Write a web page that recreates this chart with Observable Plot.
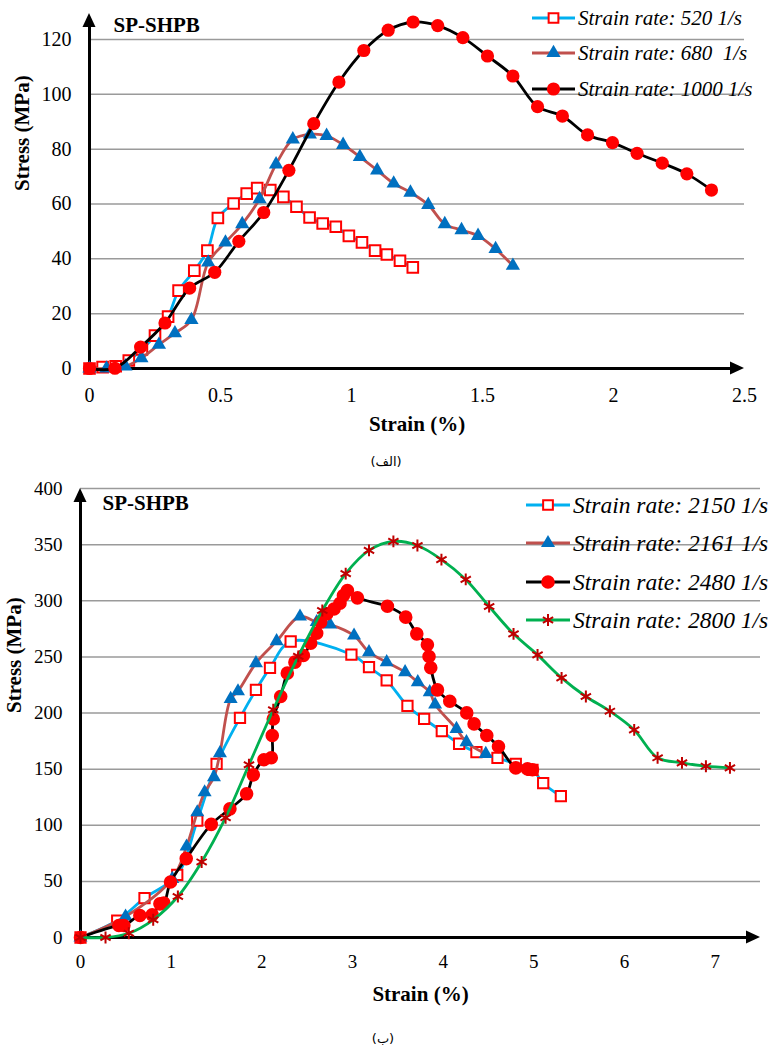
<!DOCTYPE html>
<html><head><meta charset="utf-8">
<script src="https://cdn.jsdelivr.net/npm/d3@7"></script>
<script src="https://cdn.jsdelivr.net/npm/@observablehq/plot@0.6"></script>
<style>
body{margin:0;background:#fff;width:769px;height:1048px;position:relative;overflow:hidden}
#a,#b{position:absolute;left:0}
#a{top:0}#b{top:480px}
.cap{position:absolute;font-family:"DejaVu Sans",sans-serif;font-size:13px;line-height:16px;direction:rtl;transform:translateX(-50%);color:#000}
</style></head><body>
<div id="a"></div><div id="b"></div>
<div class="cap" style="left:386px;top:454px">(الف)</div>
<div class="cap" style="left:383px;top:1031px">(ب)</div>
<script>
// ---------- Chart (الف) data ----------
const topXTicks = [0, 0.5, 1, 1.5, 2, 2.5];
const topYTicks = [0, 20, 40, 60, 80, 100, 120];
const s520Strain = [0, 0.05, 0.10, 0.15, 0.20, 0.25, 0.30, 0.34, 0.40, 0.45, 0.49, 0.55, 0.60, 0.64, 0.69, 0.74, 0.79, 0.84, 0.89, 0.94, 0.99, 1.04, 1.09, 1.135, 1.185, 1.234];
const s520Stress = [0, 0.5, 0.8, 2.9, 7, 12, 18.9, 28.4, 35.7, 43, 54.9, 60.2, 63.8, 65.8, 65.1, 62.6, 59, 55.1, 52.9, 51.7, 48.4, 46, 43, 41.6, 39.3, 36.9];
const s680Strain = [0, 0.065, 0.137, 0.198, 0.265, 0.326, 0.389, 0.453, 0.519, 0.583, 0.649, 0.712, 0.776, 0.841, 0.905, 0.968, 1.032, 1.098, 1.161, 1.225, 1.293, 1.356, 1.42, 1.483, 1.55, 1.616];
const s680Stress = [0, 0, 0.8, 3.8, 8.7, 12.9, 17.7, 38.7, 46, 52.7, 61.8, 74.5, 83.6, 85.4, 84.9, 81.6, 77.2, 72.3, 67.5, 64.2, 59.7, 52.7, 50.5, 48.4, 43.6, 37.5];
const s1000Strain = [0, 0.097, 0.195, 0.288, 0.382, 0.478, 0.57, 0.665, 0.761, 0.856, 0.952, 1.047, 1.14, 1.235, 1.329, 1.425, 1.519, 1.616, 1.71, 1.805, 1.901, 1.996, 2.09, 2.186, 2.28, 2.374];
const s1000Stress = [0, 0.1, 7.8, 16.6, 29.3, 35.1, 46.4, 56.9, 72.3, 89.3, 104.5, 116, 123.4, 126.4, 125.1, 120.7, 114, 106.7, 95.5, 92.1, 85.2, 82.4, 78.5, 74.9, 71, 65.1];
const topLabels = ["Strain rate: 520 1/s", "Strain rate: 680  1/s", "Strain rate: 1000 1/s"];

// ---------- Chart (ب) data ----------
const botXTicks = [0, 1, 2, 3, 4, 5, 6, 7];
const botYTicks = [0, 50, 100, 150, 200, 250, 300, 350, 400];
const b2150Strain = [0, 0.405, 0.706, 1.067, 1.288, 1.501, 1.759, 1.935, 2.09, 2.318, 2.988, 3.182, 3.377, 3.606, 3.79, 3.985, 4.176, 4.367, 4.599, 4.801, 4.985, 5.103, 5.298];
const b2150Stress = [0, 15.1, 35, 55.8, 104.2, 154.7, 195.7, 220.6, 240.2, 263.7, 252.1, 240.8, 229, 206.3, 194.7, 183.8, 172.6, 165.1, 160.1, 154.7, 149.4, 137.5, 125.9];
const b2161Strain = [0, 0.497, 1.012, 1.17, 1.288, 1.369, 1.472, 1.538, 1.656, 1.737, 1.935, 2.163, 2.421, 2.605, 2.752, 3.017, 3.182, 3.377, 3.58, 3.72, 3.852, 3.911, 4.147, 4.257, 4.47];
const b2161Stress = [0, 18.7, 52.2, 81, 111.6, 129.4, 142.8, 164.2, 212.6, 219.4, 244.4, 264, 286, 281, 278.8, 269, 254.2, 245.3, 236.4, 227.5, 218.6, 207.6, 185.8, 174, 163.6];
const b2480Strain = [0, 0.423, 0.478, 0.655, 0.791, 0.876, 0.92, 0.993, 1.166, 1.442, 1.648, 1.832, 1.906, 2.023, 2.104, 2.115, 2.126, 2.208, 2.281, 2.365, 2.458, 2.539, 2.605, 2.649, 2.715, 2.796, 2.862, 2.9, 2.944, 3.054, 3.385, 3.587, 3.709, 3.826, 3.844, 3.863, 3.937, 4.073, 4.26, 4.341, 4.481, 4.61, 4.801, 4.93, 4.985];
const b2480Stress = [0, 10.7, 10.7, 19.6, 20.2, 30, 30.6, 49.5, 70.3, 100.8, 114.6, 128, 144.9, 158.3, 160.1, 180, 194.7, 214.7, 235.5, 245.3, 251.2, 262.2, 271.1, 281, 288.3, 292.7, 297.8, 304.7, 309.1, 302.6, 295.1, 285.4, 270.5, 260.8, 250.3, 240.3, 220.6, 210.5, 200.1, 190.3, 180, 170.2, 151.1, 150.2, 149.4];
const b2800Strain = [0, 0.276, 0.533, 0.802, 1.074, 1.336, 1.6, 1.858, 2.126, 2.402, 2.667, 2.925, 3.182, 3.451, 3.716, 3.981, 4.249, 4.507, 4.776, 5.041, 5.306, 5.574, 5.839, 6.107, 6.365, 6.634, 6.898, 7.163];
const b2800Stress = [0, 0, 3.8, 15.8, 36.5, 67.3, 106.7, 153.9, 202.9, 250.4, 291.3, 324.2, 344.9, 352.9, 349.2, 336.7, 319, 294.9, 270.5, 251.8, 231.3, 214.7, 201.6, 184.9, 160.1, 155.6, 152.6, 151.1];
const botLabels = ["Strain rate: 2150 1/s", "Strain rate: 2161 1/s", "Strain rate: 2480 1/s", "Strain rate: 2800 1/s"];

const SERIF = "'Liberation Serif', 'Times New Roman', serif";
const rows = (xs, ys) => xs.map((strain, i) => ({strain, stress: ys[i]}));

// series styles
const stSquare = {line: "#00B0F0", symbol: "square", fill: "white", stroke: "#FF0000", sw: 2};
const stTri = {line: "#C0504D", symbol: "triangle", fill: "#0070C0", stroke: "none", sw: 0};
const stCircle = {line: "#000000", symbol: "circle", fill: "#FF0000", stroke: "none", sw: 0};
const stStar = {line: "#00B050", symbol: "asterisk", fill: "none", stroke: "#C00000", sw: 2};

function seriesMarks(data, st, r) {
  return [
    Plot.line(data, {x: "strain", y: "stress", stroke: st.line, strokeWidth: 2.8, curve: "catmull-rom"}),
    Plot.dot(data, {x: "strain", y: "stress", symbol: () => st.symbol, r, fill: st.fill, stroke: st.stroke, strokeWidth: st.sw})
  ];
}

function decorate(plot, xTip, yTip, legend) {
  const svg = d3.select(plot);
  svg.selectAll("text").style("font-family", SERIF);
  const sx = plot.scale("x"), sy = plot.scale("y");
  const x0 = sx.apply(0), y0 = sy.apply(0);
  const xe = sx.apply(xTip), ye = sy.apply(yTip);
  const g = svg.append("g");
  g.append("path").attr("d", `M${xe},${y0}L${xe - 14},${y0 - 6.5}L${xe - 14},${y0 + 6.5}Z`).attr("fill", "black");
  g.append("path").attr("d", `M${x0},${ye}L${x0 - 6.5},${ye + 14}L${x0 + 6.5},${ye + 14}Z`).attr("fill", "black");
  const lg = svg.append("g");
  legend.items.forEach((it, i) => {
    const y = legend.ys[i];
    lg.append("line").attr("x1", legend.x1).attr("x2", legend.x2).attr("y1", y).attr("y2", y)
      .attr("stroke", it.st.line).attr("stroke-width", 3);
    const sym = {square: d3.symbolSquare, triangle: d3.symbolTriangle, circle: d3.symbolCircle, asterisk: d3.symbolAsterisk}[it.st.symbol];
    lg.append("path").attr("d", d3.symbol(sym, Math.PI * it.r * it.r)())
      .attr("transform", `translate(${(legend.x1 + legend.x2) / 2},${y})`)
      .attr("fill", it.st.fill).attr("stroke", it.st.stroke).attr("stroke-width", it.st.sw);
    lg.append("text").attr("x", legend.tx).attr("y", y).attr("dy", "0.35em")
      .attr("text-anchor", "start")
      .style("font-family", SERIF).style("font-style", "italic").style("font-size", legend.fs + "px")
      .style("white-space", "pre").attr("fill", "black").text(it.label);
  });
}

// ---------- Chart (الف) ----------
const t520 = rows(s520Strain, s520Stress), t680 = rows(s680Strain, s680Stress), t1000 = rows(s1000Strain, s1000Stress);
const plotA = Plot.plot({
  width: 769, height: 440,
  marginLeft: 89, marginRight: 25, marginTop: 13, marginBottom: 72,
  x: {domain: [0, 2.5], label: null},
  y: {domain: [0, 129.5], label: null},
  style: {fontFamily: SERIF, fontSize: "20px", color: "black", background: "white", overflow: "visible"},
  marks: [
    Plot.gridY(topYTicks.filter(d => d > 0), {stroke: "#9a9a9a", strokeOpacity: 1, strokeWidth: 1.5}),
    Plot.ruleX([0], {y1: 0, y2: 125, stroke: "black", strokeWidth: 3}),
    Plot.ruleY([0], {x1: -0.015, x2: 2.46, stroke: "black", strokeWidth: 3}),
    Plot.axisX({ticks: topXTicks, tickSize: 0, tickPadding: 19, tickFormat: d => String(d), fontSize: 20}),
    Plot.axisY({ticks: topYTicks, tickSize: 0, tickPadding: 18, tickFormat: d => String(d), fontSize: 20}),
    ...seriesMarks(t520, stSquare, 6),
    ...seriesMarks(t680, stTri, 5.3),
    ...seriesMarks(t1000, stCircle, 6.6),
    Plot.text(["Strain (%)"], {frameAnchor: "bottom", dy: 56, lineAnchor: "middle", fontWeight: "bold", fontSize: 21}),
    Plot.text(["Stress (MPa)"], {frameAnchor: "left", dx: -67, rotate: -90, lineAnchor: "middle", fontWeight: "bold", fontSize: 21}),
    Plot.text(["SP-SHPB"], {frameAnchor: "top-left", dx: 24, dy: 12, textAnchor: "start", lineAnchor: "middle", fontWeight: "bold", fontSize: 21})
  ]
});
decorate(plotA, 2.5, 129.5, {
  x1: 532, x2: 575, tx: 578, ys: [18, 53, 89], fs: 21,
  items: [
    {label: topLabels[0], st: stSquare, r: 5.5},
    {label: topLabels[1], st: stTri, r: 5.3},
    {label: topLabels[2], st: stCircle, r: 6.6}
  ]
});
document.getElementById("a").append(plotA);

// ---------- Chart (ب) ----------
const d2150 = rows(b2150Strain, b2150Stress), d2161 = rows(b2161Strain, b2161Stress),
      d2480 = rows(b2480Strain, b2480Stress), d2800 = rows(b2800Strain, b2800Stress);
const plotB = Plot.plot({
  width: 769, height: 530,
  marginLeft: 80, marginRight: 9, marginTop: 8, marginBottom: 73,
  x: {domain: [0, 7.5], label: null},
  y: {domain: [0, 400], label: null},
  style: {fontFamily: SERIF, fontSize: "19px", color: "black", background: "white", overflow: "visible"},
  marks: [
    Plot.gridY(botYTicks.filter(d => d > 0), {stroke: "#9a9a9a", strokeOpacity: 1, strokeWidth: 1.5}),
    Plot.ruleX([0], {y1: 0, y2: 388, stroke: "black", strokeWidth: 3}),
    Plot.ruleY([0], {x1: 0, x2: 7.38, stroke: "black", strokeWidth: 3}),
    Plot.axisX({ticks: botXTicks, tickSize: 0, tickPadding: 17, tickFormat: d => String(d), fontSize: 19}),
    Plot.axisY({ticks: botYTicks, tickSize: 0, tickPadding: 18, tickFormat: d => String(d), fontSize: 19}),
    ...seriesMarks(d2150, stSquare, 5.8),
    ...seriesMarks(d2161, stTri, 5.2),
    ...seriesMarks(d2480, stCircle, 6.8),
    ...seriesMarks(d2800, stStar, 5.6),
    Plot.text(["Strain (%)"], {frameAnchor: "bottom", dy: 57, lineAnchor: "middle", fontWeight: "bold", fontSize: 21}),
    Plot.text(["Stress (MPa)"], {frameAnchor: "left", dx: -66, rotate: -90, lineAnchor: "middle", fontWeight: "bold", fontSize: 21}),
    Plot.text(["SP-SHPB"], {frameAnchor: "top-left", dx: 22, dy: 15, textAnchor: "start", lineAnchor: "middle", fontWeight: "bold", fontSize: 21})
  ]
});
decorate(plotB, 7.5, 400, {
  x1: 526, x2: 570, tx: 573, ys: [25, 63, 102, 140], fs: 23.5,
  items: [
    {label: botLabels[0], st: stSquare, r: 5.5},
    {label: botLabels[1], st: stTri, r: 5.2},
    {label: botLabels[2], st: stCircle, r: 6.8},
    {label: botLabels[3], st: stStar, r: 5.6}
  ]
});
document.getElementById("b").append(plotB);
</script>
</body></html>
